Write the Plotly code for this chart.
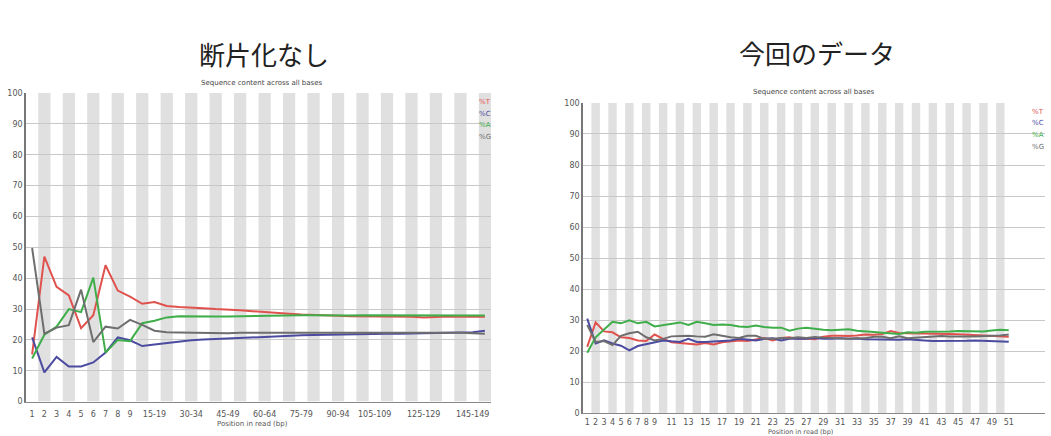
import plotly.graph_objects as go

# ---------------- data ----------------
cats_left = [str(i) for i in range(1, 10)] + [f"{a}-{a+4}" for a in range(10, 150, 5)] + ["150-151"]
ticks_left = ["1", "2", "3", "4", "5", "6", "7", "8", "9", "15-19", "30-34", "45-49",
              "60-64", "75-79", "90-94", "105-109", "125-129", "145-149"]

t_left = [15.3, 47.0, 37.2, 34.4, 23.8, 28.0, 44.2, 36.0, 34.0, 31.7, 32.3, 31.0, 30.7, 30.6, 30.3,
          30.0, 29.9, 29.6, 29.3, 29.1, 28.9, 28.5, 28.2, 28.0, 27.9, 27.8, 27.7, 27.7, 27.6, 27.7,
          27.7, 27.5, 27.3, 27.5, 27.6, 27.5, 27.6, 27.5]
c_left = [20.8, 9.5, 14.5, 11.4, 11.4, 12.7, 15.9, 20.8, 19.9, 18.0, 18.5, 19.0, 19.6, 19.9, 20.1,
          20.3, 20.5, 20.6, 20.8, 21.0, 21.1, 21.3, 21.5, 21.6, 21.7, 21.8, 21.9, 21.9, 22.0, 22.0,
          22.0, 22.1, 22.1, 22.1, 22.2, 22.3, 22.5, 23.0]
a_left = [14.0, 21.7, 24.3, 30.0, 29.0, 40.2, 15.9, 20.0, 19.6, 25.4, 26.2, 27.3, 27.7, 27.6, 27.7,
          27.6, 27.6, 27.7, 27.8, 27.8, 27.9, 27.9, 28.0, 28.0, 27.9, 28.0, 27.9, 28.0, 28.0, 28.0,
          28.1, 28.0, 28.1, 28.0, 28.0, 28.1, 28.0, 27.9]
g_left = [49.8, 22.0, 24.0, 24.8, 36.3, 19.3, 24.3, 23.7, 26.5, 24.9, 23.0, 22.5, 22.4, 22.3, 22.2,
          22.3, 22.2, 22.3, 22.3, 22.3, 22.4, 22.4, 22.4, 22.4, 22.5, 22.5, 22.4, 22.5, 22.4, 22.4,
          22.4, 22.4, 22.3, 22.4, 22.3, 22.3, 22.2, 22.0]

cats_right = [str(i) for i in range(1, 52)]
ticks_right = [str(i) for i in range(1, 10)] + [str(i) for i in range(11, 52, 2)]

t_right = [21.4, 29.3, 26.4, 26.1, 24.5, 24.3, 23.5, 23.3, 25.4, 24.0, 22.9, 22.6, 22.4, 22.2, 22.7,
           22.2, 22.9, 23.2, 23.5, 23.3, 23.7, 24.3, 23.5, 24.3, 24.5, 24.0, 24.1, 23.9, 24.7, 25.0,
           25.0, 24.9, 25.1, 25.4, 25.3, 25.6, 26.5, 25.9, 25.8, 25.8, 25.7, 25.7, 25.6, 25.6, 25.5,
           25.4, 25.3, 25.2, 25.0, 24.8, 24.7]
c_right = [30.5, 22.5, 23.5, 22.5, 21.8, 20.3, 21.7, 22.3, 23.0, 23.5, 23.2, 23.0, 24.0, 23.0, 23.0,
           23.1, 23.3, 23.5, 24.0, 23.7, 23.5, 24.0, 24.2, 23.5, 24.0, 24.1, 24.0, 24.3, 24.0, 24.0,
           24.2, 24.0, 24.1, 23.9, 23.8, 23.7, 23.6, 23.7, 23.9, 23.8, 23.5, 23.3, 23.3, 23.2, 23.3,
           23.4, 23.5, 23.4, 23.3, 23.2, 23.1]
a_right = [19.5, 24.5, 27.0, 29.5, 29.0, 30.0, 29.0, 29.5, 28.0, 28.5, 29.0, 29.3, 28.5, 29.5, 29.0,
           28.5, 28.6, 28.5, 28.0, 27.8, 28.3, 27.8, 27.6, 27.6, 26.6, 27.3, 27.6, 27.2, 26.9, 26.8,
           26.9, 27.1, 26.6, 26.5, 26.2, 26.0, 25.7, 25.6, 26.1, 26.0, 26.3, 26.3, 26.2, 26.4, 26.5,
           26.4, 26.4, 26.4, 26.7, 26.9, 26.8]
g_right = [28.5, 23.0, 23.3, 22.0, 25.0, 25.8, 26.3, 24.5, 23.5, 24.0, 24.8, 25.0, 25.0, 24.8, 24.7,
           25.5, 25.0, 24.5, 24.3, 25.0, 25.0, 24.0, 24.0, 24.3, 24.2, 24.5, 24.3, 24.6, 24.4, 24.3,
           24.0, 24.0, 24.2, 24.2, 24.7, 24.7, 24.2, 24.8, 24.2, 24.4, 24.5, 24.7, 24.9, 24.8, 24.7,
           24.8, 24.8, 25.0, 25.0, 25.1, 25.4]

series_names = ["%T", "%C", "%A", "%G"]
series_colors = ["#e0524e", "#4b4ba0", "#3fae4a", "#6e6e6e"]

main_titles = ["断片化なし", "今回のデータ"]
sub_title = "Sequence content across all bases"
x_title = "Position in read (bp)"

# ---------------- figure ----------------
W, H = 1051, 436
def px(x):
    return x / W
def py(y):
    return 1 - y / H

fig = go.Figure()

panels = [
    dict(cats=cats_left, ticks=ticks_left, data=[t_left, c_left, a_left, g_left],
         xa="x", ya="y", xdom=[px(26), px(491)], ydom=[py(406), py(91)],
         xextra=0.0, title_xy=(264, 51), sub_xy=(262, 81), xt_xy=(252, 429), leg_x=477, leg_y=100,
         standoff=5, xt_size=7),
    dict(cats=cats_right, ticks=ticks_right, data=[t_right, c_right, a_right, g_right],
         xa="x2", ya="y2", xdom=[px(583), px(1045)], ydom=[py(418), py(101)],
         xextra=3.8, title_xy=(817, 50), sub_xy=(814, 90), xt_xy=(800, 437.5), leg_x=1030, leg_y=110,
         standoff=1, xt_size=6.5),
]

shapes = []
annotations = []
for k, p in enumerate(panels):
    for name, col, vals in zip(series_names, series_colors, p["data"]):
        fig.add_trace(go.Scatter(x=p["cats"], y=vals, mode="lines", name=name,
                                 line=dict(color=col, width=2), xaxis=p["xa"], yaxis=p["ya"],
                                 showlegend=False))
    # alternating grey stripes
    for i in range(len(p["cats"])):
        if i % 2 == 1:
            shapes.append(dict(type="rect", xref=p["xa"], yref=p["ya"], x0=i - 0.5, x1=i + 0.5,
                               y0=0, y1=100, fillcolor="#e0e0e0", line=dict(width=0), layer="below"))
    suffix = "" if k == 0 else "2"
    n = len(p["cats"])
    fig.update_layout(**{
        "xaxis" + suffix: dict(domain=p["xdom"], anchor=p["ya"], type="category",
                               categoryorder="array", categoryarray=p["cats"],
                               range=[-0.5, n - 0.5 + p["xextra"]],
                               tickvals=p["ticks"], ticktext=p["ticks"], tickangle=0,
                               ticklabelstandoff=p["standoff"],
                               showgrid=False, zeroline=False, showline=True, linecolor="#888888",
                               linewidth=1, ticks="", tickfont=dict(family="DejaVu Sans", size=8, color="#555555")),
        "yaxis" + suffix: dict(domain=p["ydom"], anchor=p["xa"], range=[0, 100], dtick=10,
                               showgrid=True, gridcolor="#c8c8c8", gridwidth=1, zeroline=False,
                               showline=True, linecolor="#777777", linewidth=1.5, ticks="",
                               tickfont=dict(family="DejaVu Sans", size=8, color="#555555")),
    })
    annotations.append(dict(text=main_titles[k], x=px(p["title_xy"][0]), y=py(p["title_xy"][1]),
                            xref="paper", yref="paper", showarrow=False, xanchor="center", yanchor="middle",
                            font=dict(family="Noto Sans CJK JP", size=26, color="#222222")))
    annotations.append(dict(text=sub_title, x=px(p["sub_xy"][0]), y=py(p["sub_xy"][1]),
                            xref="paper", yref="paper", showarrow=False, xanchor="center", yanchor="middle",
                            font=dict(family="DejaVu Sans", size=7, color="#444444")))
    annotations.append(dict(text=x_title, x=px(p["xt_xy"][0]), y=py(p["xt_xy"][1]),
                            xref="paper", yref="paper", showarrow=False, xanchor="center", yanchor="middle",
                            font=dict(family="DejaVu Sans", size=p["xt_size"], color="#555555")))
    for j, (name, col) in enumerate(zip(series_names, series_colors)):
        annotations.append(dict(text=name, x=px(p["leg_x"]), y=py(p["leg_y"] + 12 * j),
                                xref="paper", yref="paper", showarrow=False, xanchor="left", yanchor="middle",
                                font=dict(family="DejaVu Sans", size=7, color=col)))

fig.update_layout(width=W, height=H, margin=dict(l=0, r=0, t=0, b=0),
                  paper_bgcolor="white", plot_bgcolor="white",
                  shapes=shapes, annotations=annotations, showlegend=False)

fig.write_html("out.html", config={"displayModeBar": False},
               post_script="document.body.style.margin='0';document.body.style.padding='0';document.body.style.overflow='hidden';")
